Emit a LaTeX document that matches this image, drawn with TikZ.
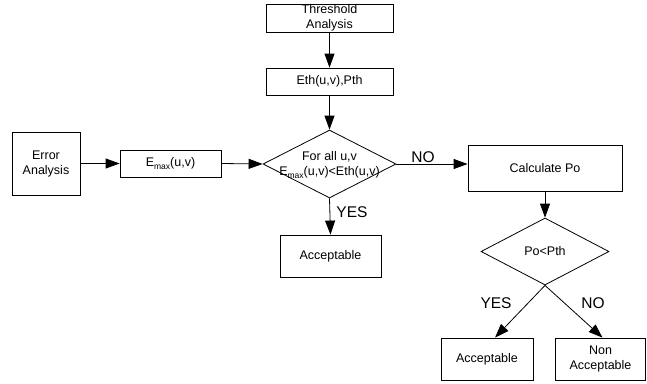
\documentclass[tikz,border=0pt]{standalone}
\usepackage{fontspec}
\setmainfont{Liberation Sans}
\usetikzlibrary{arrows.meta,shapes.geometric}
\begin{document}
\begin{tikzpicture}[x=1pt,y=-1pt,
  box/.style={draw,line width=0.8pt,inner sep=0pt,align=center,font=\fontsize{12.5}{15}\selectfont},
  dia/.style={draw,line width=0.8pt,shape=diamond,inner sep=0pt},
  txt/.style={inner sep=0pt,align=center,font=\fontsize{12.5}{15.5}\selectfont},
  lab/.style={inner sep=0pt,font=\fontsize{15.5}{17}\selectfont},
  arr/.style={line width=0.8pt,-{Triangle[length=14pt,width=10pt]}}]
\useasboundingbox (0,0) rectangle (647,383);
\node[box,minimum width=127pt,minimum height=28pt] (th) at (329.5,18) {Threshold\\Analysis};
\node[box,minimum width=127pt,minimum height=27pt] (eth) at (329.5,81.5) {Eth(u,v),Pth};
\node[box,minimum width=68pt,minimum height=63pt] (err) at (46,163.5) {Error\\Analysis};
\node[box,minimum width=101pt,minimum height=27pt] (emax) at (170.5,163.5) {E\raisebox{-2.5pt}{\fontsize{8.5}{9}\selectfont max}(u,v)};
\node[dia,minimum width=133pt,minimum height=68pt] (d1) at (329.5,164) {};
\node[txt] (d1t) at (329.5,165) {For all u,v\\E\raisebox{-2.5pt}{\fontsize{8.5}{9}\selectfont max}(u,v)<Eth(u,v)};
\node[box,minimum width=154pt,minimum height=46pt] (calc) at (545,168) {Calculate Po};
\node[box,minimum width=101pt,minimum height=42pt] (acc1) at (330.5,256) {Acceptable};
\node[dia,minimum width=128pt,minimum height=67pt] (d2) at (545,251.5) {};
\node[txt] (d2t) at (545,251.5) {Po<Pth};
\node[box,minimum width=92pt,minimum height=42pt] (acc2) at (487,359) {Acceptable};
\node[box,minimum width=90pt,minimum height=42pt] (non) at (600.5,359) {Non\\Acceptable};
\node[lab] (no1) at (423,157) {NO};
\node[lab] (yes1) at (352,212) {YES};
\node[lab] (yes2) at (496,303) {YES};
\node[lab] (no2) at (593,303) {NO};
\draw[arr] (th.south) -- (eth.north);
\draw[arr] (eth.south) -- (d1.north);
\draw[arr] (err.east) -- (emax.west);
\draw[arr] (emax.east) -- (d1.west);
\draw[arr] (d1.east) -- (d1.east -| calc.west);
\draw[arr] (d1.south) -- (acc1.north);
\draw[arr] (calc.south) -- (d2.north);
\draw[arr] (d2.south) -- ([xshift=8pt]acc2.north);
\draw[arr] (d2.south) -- ([xshift=2pt]non.north);
\end{tikzpicture}
\end{document}
